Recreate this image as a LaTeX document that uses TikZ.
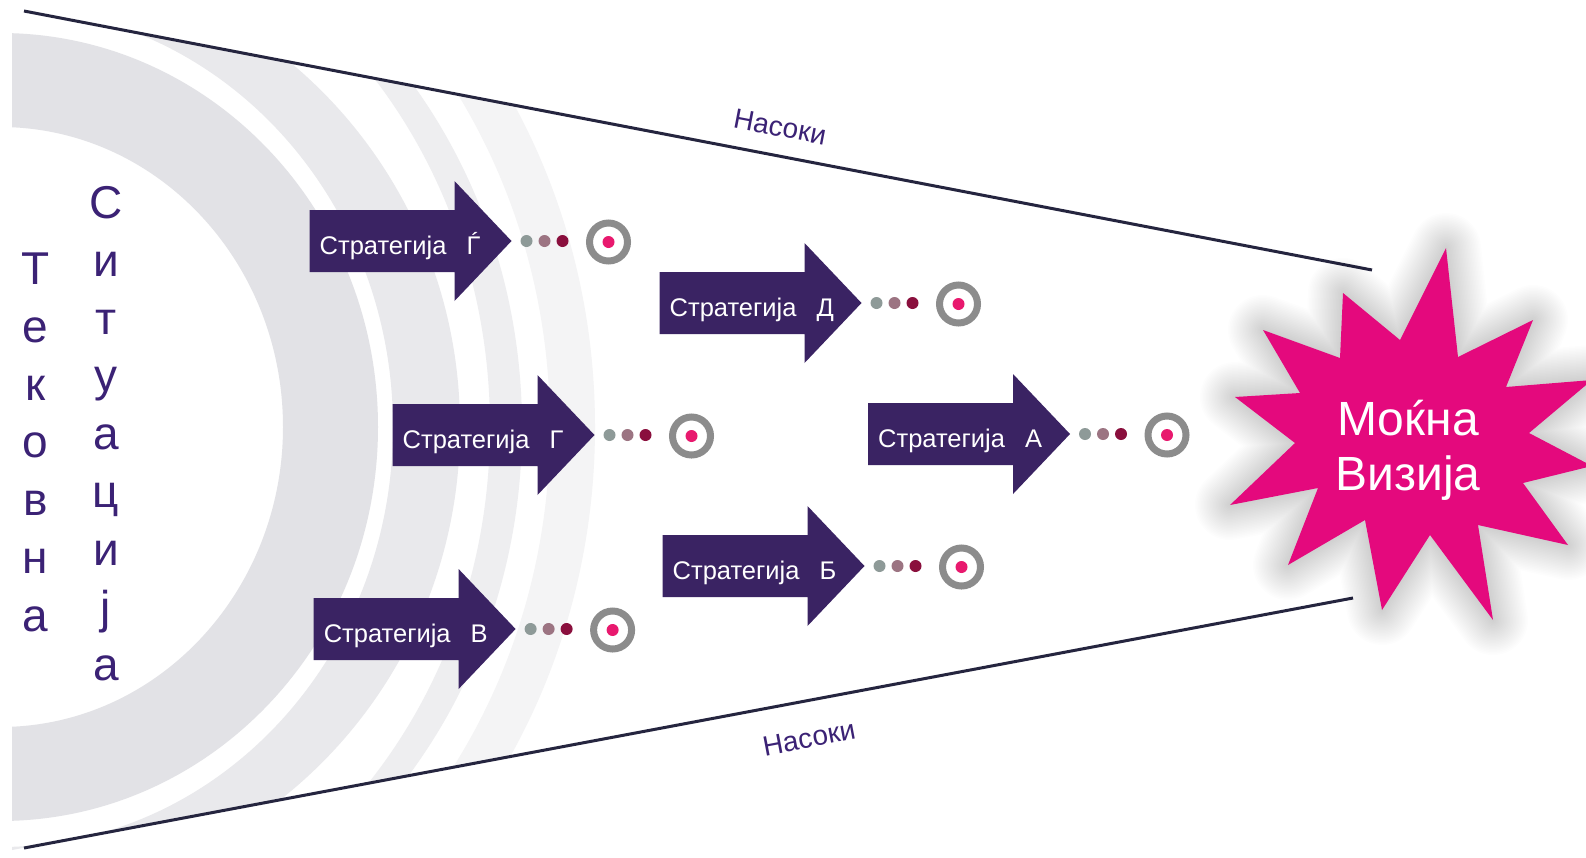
\documentclass[tikz,border=0pt]{standalone}
\usepackage{fontspec}
\setmainfont{Liberation Sans}
\usetikzlibrary{calc}
\definecolor{arrowc}{HTML}{3A2363}
\definecolor{textc}{HTML}{3B2275}
\definecolor{linec}{HTML}{25253F}
\definecolor{dotA}{HTML}{8E9A98}
\definecolor{dotB}{HTML}{9C7482}
\definecolor{dotC}{HTML}{8A0F3D}
\definecolor{ringc}{HTML}{8C8C8C}
\definecolor{pinkdot}{HTML}{E8196E}
\definecolor{starc}{HTML}{E4097D}
\definecolor{bandA}{HTML}{E2E2E6}
\definecolor{bandB}{HTML}{E9E9EC}
\definecolor{bandC}{HTML}{EEEEF0}
\definecolor{bandD}{HTML}{F4F4F5}
\tikzset{
  funnel/.style={draw=linec, line width=3pt},
  guide/.style={text=textc, font=\fontsize{28}{30}\selectfont, inner sep=0pt},
  vert/.style={text=textc, font=\fontsize{46}{50}\selectfont, inner sep=0pt, anchor=base},
  strattext/.style={text=white, font=\fontsize{25.5}{28}\selectfont, inner sep=0pt, anchor=base west},
  vistext/.style={text=white, font=\fontsize{48}{52}\selectfont, inner sep=0pt, anchor=base},
}
\newcommand\stratitem[4]{%
  \fill[arrowc] (#2,#3-31) -- (#2+145,#3-31) -- (#2+145,#3-60) -- (#2+202,#3)
     -- (#2+145,#3+60) -- (#2+145,#3+31) -- (#2,#3+31) -- cycle;
  \node[strattext] (#1) at (#2+10,#3+13) {Стратегија\hspace{20pt}#4};
  \fill[dotA] (#2+217,#3) circle (6pt);
  \fill[dotB] (#2+235,#3) circle (6pt);
  \fill[dotC] (#2+253,#3) circle (6pt);
  \node[circle, draw=ringc, line width=7pt, fill=white, minimum size=38pt, inner sep=0pt] (#1t) at (#2+299,#3+1) {};
  \fill[pinkdot] (#1t.center) circle (6pt);
}
\newcommand\starpoly{(1446,248) -- (1458,357) -- (1533,320) -- (1506,387) -- (1592,380) -- (1529,433)
  -- (1592,466) -- (1523,483) -- (1568,545) -- (1478,525) -- (1493,620) -- (1430,535)
  -- (1382,610) -- (1365,520) -- (1288,565) -- (1318,488) -- (1230,505) -- (1295,443)
  -- (1235,397) -- (1300,393) -- (1263,330) -- (1340,358) -- (1343,293) -- (1400,340) -- cycle}
\begin{document}
\begin{tikzpicture}[x=1pt,y=-1pt]
\useasboundingbox (0,0) rectangle (1586,857);
\fill[white] (0,0) rectangle (1586,857);
% rings
\begin{scope}
  \clip (12,8.7) -- (1372,270) -- (1353,598) -- (12,850) -- cycle;
  \fill[bandD, even odd rule] (0,427) ellipse [x radius=595pt, y radius=640pt] (0,427) ellipse [x radius=550pt, y radius=600pt];
  \fill[bandC, even odd rule] (0,427) ellipse [x radius=522pt, y radius=560pt] (0,427) ellipse [x radius=490pt, y radius=540pt];
  \fill[bandB, even odd rule] (0,427) ellipse [x radius=460pt, y radius=470pt] (0,427) ellipse [x radius=393pt, y radius=420pt];
  \fill[bandA, even odd rule] (0,427) ellipse [x radius=378pt, y radius=394pt] (0,427) ellipse [x radius=283pt, y radius=300pt];
\end{scope}
% funnel lines
\coordinate (tl) at (24,11);
\coordinate (tr) at (1372,270);
\coordinate (bl) at (24,848);
\coordinate (br) at (1353,598);
\draw[funnel] (tl) -- (tr);
\draw[funnel] (bl) -- (br);
\node[guide, rotate=-10.9] (g1) at (780,127) {Насоки};
\node[guide, rotate=10.7] (g2) at (809,738) {Насоки};
% vertical words
\foreach \l [count=\i] in {Т,е,к,о,в,н,а}
  \node[vert] (tek\i) at (35.5,{284.5+57.8*(\i-1)}) {\l};
\foreach \l [count=\i] in {С,и,т,у,а,ц,и,ј,а}
  \node[vert] (sit\i) at (106,{218.5+57.8*(\i-1)}) {\l};
% strategies
\stratitem{sGj}{309.5}{241}{Ѓ}
\stratitem{sD}{659.5}{303}{Д}
\stratitem{sG}{392.5}{435}{Г}
\stratitem{sA}{868}{434}{А}
\stratitem{sB}{662.5}{566}{Б}
\stratitem{sV}{313.6}{629}{В}
% star with soft shadow
\foreach \w in {70,67,...,4}
  \draw[black, opacity=0.009, line width=\w pt, line join=round] \starpoly;
\fill[starc] \starpoly;
\node[vistext] (vis1) at (1408,435) {Моќна};
\node[vistext] (vis2) at (1408,490) {Визија};
\end{tikzpicture}
\end{document}
